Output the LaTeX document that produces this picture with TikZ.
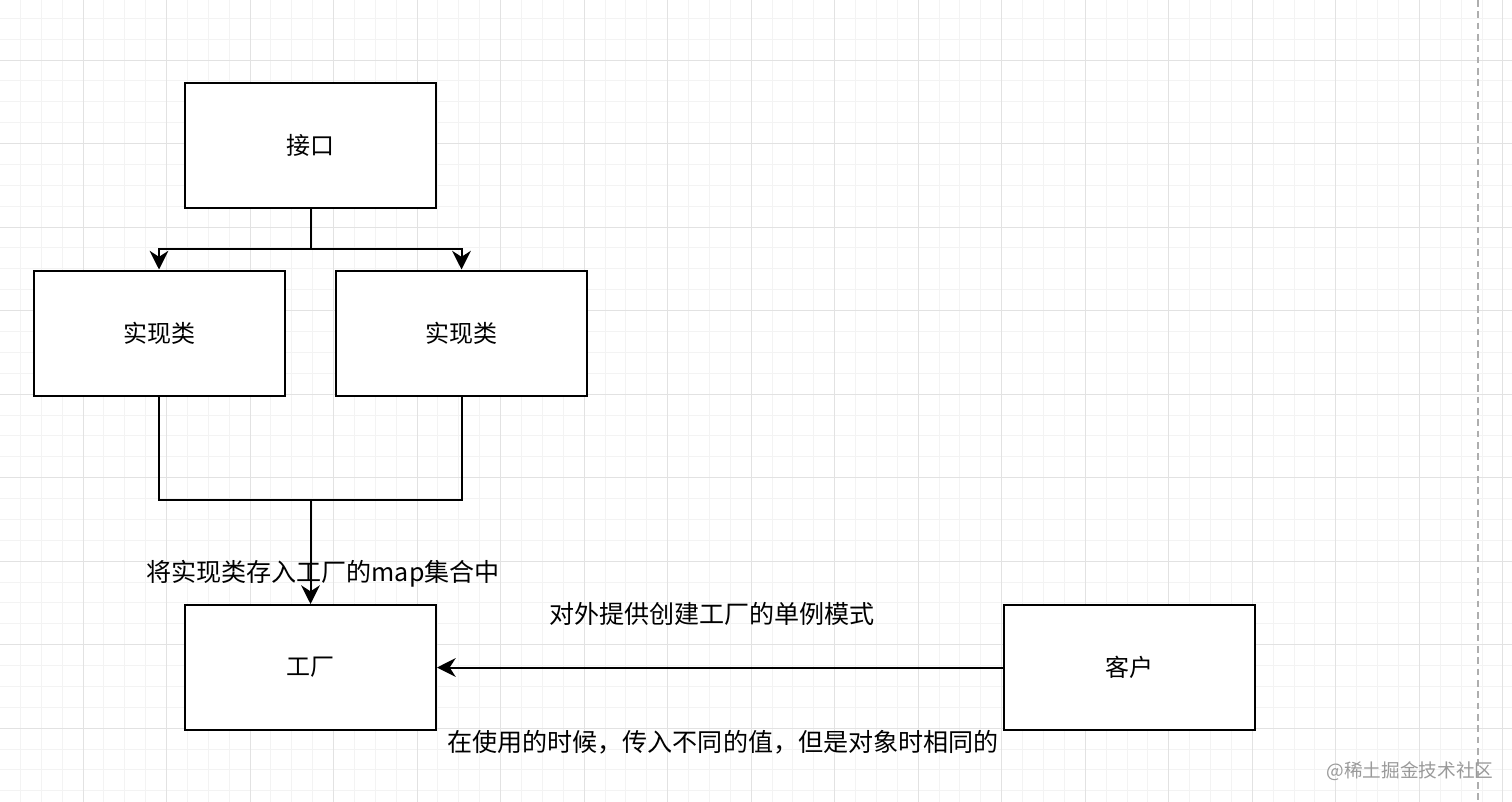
\documentclass[tikz,border=0pt]{standalone}
\usepackage{fontspec}
\setmainfont{Noto Sans CJK SC}
\newfontfamily\cjk{Noto Sans CJK SC}
\usepackage{tikz}
\usetikzlibrary{arrows.meta, positioning, calc}
\definecolor{minorgrid}{HTML}{F3F3F3}
\definecolor{majorgrid}{HTML}{E2E2E2}
\definecolor{markgray}{HTML}{9A9A9A}
\tikzset{
  box/.style    = {rectangle, draw, line width=1.5pt, fill=white,
                   minimum width=188.25pt, minimum height=93.75pt,
                   align=center, font=\cjk\fontsize{18}{20}\selectfont},
  flow/.style   = {-{Stealth[length=14pt 0 0, width=14pt 0 0, inset=4.5pt 0 0]}, line width=1.5pt},
  link/.style   = {line width=1.5pt},
  edgelbl/.style = {font=\cjk\fontsize{18.8}{21}\selectfont, inner sep=0pt},
  thin grid/.style = {draw=minorgrid, line width=0.75pt},
  thick grid/.style = {draw=majorgrid, line width=0.75pt},
}

\begin{document}
\begin{tikzpicture}[x=0.75pt, y=-0.75pt]
  % page and grid
  \fill[white] (0,0) rectangle (1512,802);
  \useasboundingbox (0,0) rectangle (1512,802);
  \begin{scope}
    \clip (0,0) rectangle (1512,802);
    \foreach \i in {0,...,73} {
      \draw[thin grid] ({\i*20.88-0.5},0) -- ++(0,802);
    }
    \foreach \i in {0,...,39} {
      \draw[thin grid] (0,{\i*20.88-2.6}) -- ++(1512,0);
    }
    \foreach \i in {0,...,18} {
      \draw[thick grid] ({\i*83.52-0.5},0) -- ++(0,802);
    }
    \foreach \i in {0,...,9} {
      \draw[thick grid] (0,{\i*83.52-23.5}) -- ++(1512,0);
    }
    \draw[draw=markgray!80, line width=1.3pt, dash pattern=on 5pt off 3.5pt] (1478,0) -- (1478,802);
  \end{scope}

  % boxes
  \node[box] (jk)    at (310.5,145.5)  {接口};
  \node[box] (implA) at (159,333)      {实现类};
  \node[box] (implB) at (461.5,333)    {实现类};
  \node[box] (gc)    at (310.5,667.5)  {工厂};
  \node[box] (kh)    at (1129.5,667.5) {客户};

  % interface -> implementations
  \coordinate (split) at (310.5,249);
  \draw[link] (jk.south) -- (split);
  \draw[flow] (split) -| (implA.north);
  \draw[flow] (split) -| (implB.north);

  % implementations -> factory
  \coordinate (merge) at (310.5,500);
  \draw[link] (implA.south) |- (merge) -| (implB.south);
  \draw[flow] (merge) -- (gc.north);
  \node[edgelbl] (putmap) at (323,574) {将实现类存入工厂的map集合中};

  % client -> factory
  \draw[flow] (kh.west) -- (gc.east);
  \node[edgelbl] (single) at (712,614) {对外提供创建工厂的单例模式};
  \node[edgelbl] (usage)  at (723,742) {在使用的时候，传入不同的值，但是对象时相同的};

  \node[font=\cjk\fontsize{14}{16}\selectfont, text=markgray, inner sep=0pt] (mark) at (1410,771) {@稀土掘金技术社区};
\end{tikzpicture}
\end{document}
